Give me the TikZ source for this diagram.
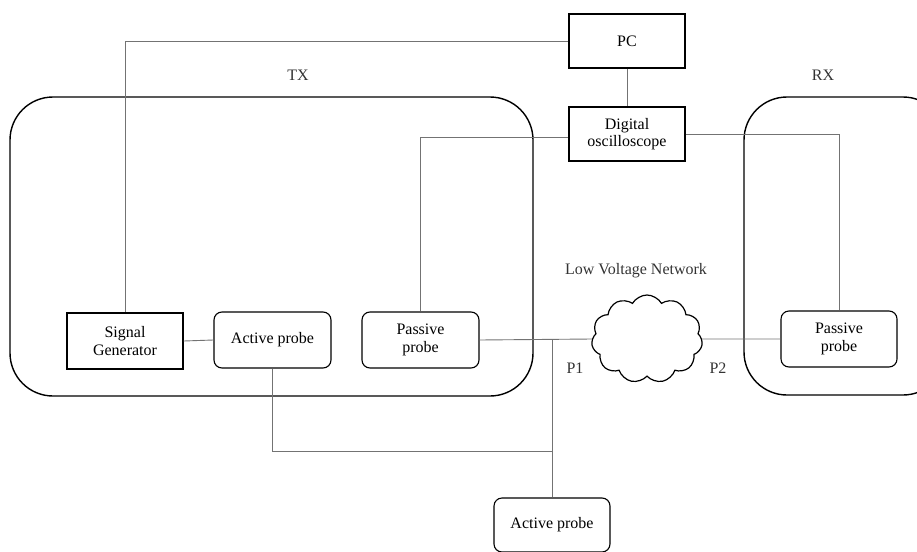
\documentclass[tikz,border=0pt]{standalone}
\usepackage{fontspec}
\setmainfont{Liberation Serif}
\usetikzlibrary{shapes.symbols}
\tikzset{
  base/.style={draw=black, line width=1.1pt, align=center, inner sep=2pt,
    font=\fontsize{16}{17.5}\selectfont},
  sqbox/.style={base, line width=1.3pt},
  rbox/.style={base, rounded corners=8pt},
  wire/.style={draw=black!55, line width=0.9pt},
  frame/.style={draw=black, line width=1.4pt, rounded corners=43pt},
  lbl/.style={font=\fontsize{16}{17.5}\selectfont, text=black!80},
}
\begin{document}
\begin{tikzpicture}[x=1pt, y=-1pt]
  \useasboundingbox (0,0) rectangle (917,551);
  \clip (0,0) rectangle (917,551);

  % measurement environments
  \draw[frame] (10,97) rectangle (533,396);
  \draw[frame] (744,97) rectangle (946,395);
  \node[lbl] (tx) at (298,75) {TX};
  \node[lbl] (rx) at (823,75) {RX};

  % instruments
  \node[sqbox, minimum width=116pt, minimum height=54pt] (pc) at (627,41) {PC};
  \node[sqbox, minimum width=116pt, minimum height=54pt] (osc) at (627,134) {Digital\\oscilloscope};
  \node[sqbox, minimum width=116pt, minimum height=56pt] (sg) at (125,341) {Signal\\Generator};
  \node[rbox, minimum width=117pt, minimum height=56pt] (aptx) at (272.5,340) {Active probe};
  \node[rbox, minimum width=117pt, minimum height=56pt] (pptx) at (420.5,340) {Passive\\probe};
  \node[rbox, minimum width=116pt, minimum height=56pt] (pprx) at (839,339) {Passive\\probe};
  \node[rbox, minimum width=116pt, minimum height=54pt] (apbot) at (552,525) {Active probe};

  % low voltage network
  \node[cloud, draw=black, line width=1.2pt, cloud puffs=11, cloud puff arc=120,
        minimum width=111pt, minimum height=88pt, inner sep=0pt] (lvn) at (647,339) {};
  \node[lbl] (lvnl) at (636,271) {Low Voltage Network};
  \node[lbl] (p1) at (575,368) {P1};
  \node[lbl] (p2) at (718,368) {P2};

  % junctions on the injection line
  \coordinate (j1) at (552,340);
  \coordinate (j2) at (552,451);

  % wiring
  \draw[wire] (pc.west) -| (sg.north);
  \draw[wire] (pc.south) -- (osc.north);
  \draw[wire] ([yshift=-3pt]osc.west) -| (pptx.north);
  \draw[wire] (osc.east) -| (pprx.north);
  \draw[wire] (sg.east) -- (aptx.west);
  \draw[wire] (pptx.east) -- (lvn.west);
  \draw[wire] (lvn.east) -- (pprx.west);
  \draw[wire] (aptx.south) |- (j2) -- (j1);
  \draw[wire] (j2) -- (apbot.north);
\end{tikzpicture}
\end{document}
